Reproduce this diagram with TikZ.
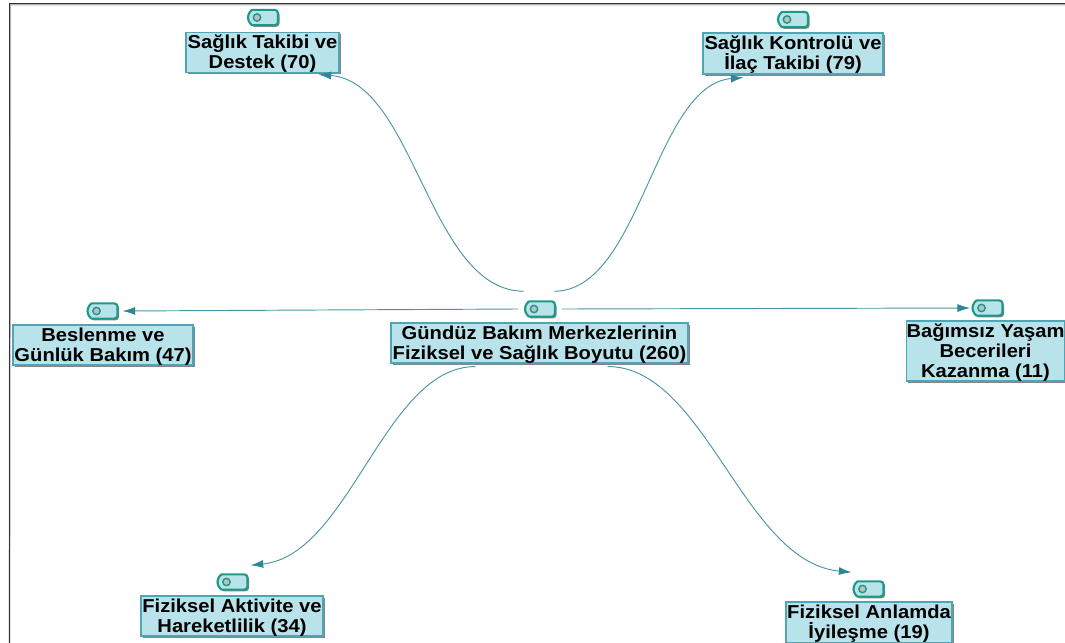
\documentclass[tikz,border=0pt]{standalone}
\usepackage{fontspec}
\setmainfont[FakeStretch=1.08]{Liberation Sans}
\usetikzlibrary{arrows.meta,shapes.misc,shadows}
\definecolor{boxfill}{HTML}{B9E3EA}
\definecolor{boxline}{HTML}{4FA5B5}
\definecolor{tagline}{HTML}{1E9985}
\definecolor{linkcol}{HTML}{4A95A3}
\definecolor{tipcol}{HTML}{2F8796}
\newcommand{\topstrut}{\rule{0pt}{12pt}}
\tikzset{
    databox/.style={draw=boxline,line width=0.8pt,fill=boxfill,align=center,inner sep=0pt,
        font=\bfseries\fontsize{14}{15}\selectfont,text=black,
        drop shadow={shadow xshift=1.3pt,shadow yshift=-1.3pt,fill=black!60,opacity=0.8}},
    tagbox/.style={rounded rectangle,rounded rectangle right arc=none,rounded corners=2.5pt,
        draw=tagline,line width=1.6pt,fill=boxfill,minimum width=22.5pt,minimum height=11.5pt,inner sep=0pt,
        drop shadow={shadow xshift=1.2pt,shadow yshift=-1.2pt,fill=black!60,opacity=0.8}},
    taghole/.style={circle,draw=tagline,line width=1.1pt,fill=black!25,minimum size=5.5pt,inner sep=0pt},
    link/.style={draw=linkcol,line width=0.7pt,-{Latex[length=9.5pt,width=6pt,color=tipcol]}},
    frameline/.style={draw=black!80,line width=1.3pt}
}
\begin{document}
\begin{tikzpicture}[x=0.75pt,y=-0.75pt]
        \useasboundingbox (0,0) rectangle (1065,643);
        \coordinate (frameBL) at (9.5,643);
        \coordinate (frameTL) at (9.5,3.5);
        \coordinate (frameTR) at (1065,3.5);
        \draw[frameline,draw=black!30] (frameBL) -- ([shift={(0.8,1)}]frameTL) -- ([yshift=-0.8pt]frameTR);
        \draw[frameline] (frameBL) -- (frameTL) -- (frameTR);

        % centre
        \node[tagbox] (tagHub) at (540,309) {};
        \node[taghole] (holeHub) at ([xshift=-4.5pt]tagHub.center) {};
        \node[databox,minimum width=222.75pt,minimum height=30pt] (boxHub) at (539.5,343) {\topstrut Gündüz Bakım Merkezlerinin\\Fiziksel ve Sağlık Boyutu (260)};

        % top
        \node[tagbox] (tagTakip) at (263,17.5) {};
        \node[taghole] (holeTakip) at ([xshift=-4.5pt]tagTakip.center) {};
        \node[databox,minimum width=114.75pt,minimum height=30pt] (boxTakip) at (262.5,52.5) {\topstrut Sağlık Takibi ve\\Destek (70)};

        \node[tagbox] (tagKontrol) at (793,19.5) {};
        \node[taghole] (holeKontrol) at ([xshift=-4.5pt]tagKontrol.center) {};
        \node[databox,minimum width=135pt,minimum height=30.75pt] (boxKontrol) at (793,53.5) {\topstrut Sağlık Kontrolü ve\\İlaç Takibi (79)};

        % middle
        \node[tagbox] (tagBeslenme) at (102.5,311) {};
        \node[taghole] (holeBeslenme) at ([xshift=-4.5pt]tagBeslenme.center) {};
        \node[databox,minimum width=135pt,minimum height=30pt] (boxBeslenme) at (103,345) {\topstrut Beslenme ve\\Günlük Bakım (47)};

        \node[tagbox] (tagYasam) at (987.5,308) {};
        \node[taghole] (holeYasam) at ([xshift=-4.5pt]tagYasam.center) {};
        \node[databox,minimum width=117.75pt,minimum height=45pt] (boxYasam) at (985.5,351) {\topstrut Bağımsız Yaşam\\Becerileri\\Kazanma (11)};

        % bottom
        \node[tagbox] (tagAktivite) at (232.5,582) {};
        \node[taghole] (holeAktivite) at ([xshift=-4.5pt]tagAktivite.center) {};
        \node[databox,minimum width=136.5pt,minimum height=30pt] (boxAktivite) at (232,616) {\topstrut Fiziksel Aktivite ve\\Hareketlilik (34)};

        \node[tagbox] (tagAnlam) at (868.5,589) {};
        \node[taghole] (holeAnlam) at ([xshift=-4.5pt]tagAnlam.center) {};
        \node[databox,minimum width=124.5pt,minimum height=30.75pt] (boxAnlam) at (869,622.5) {\topstrut Fiziksel Anlamda\\İyileşme (19)};

        % links
        \draw[link] ([shift={(-16,-9)}]tagHub.north) .. controls +(-95,0) and (415,82) .. ([shift={(-21,1.5)}]boxTakip.south east);
        \draw[link] ([shift={(14,-9)}]tagHub.north) .. controls +(87,0) and (654,85) .. ([shift={(-140,3)}]boxKontrol.south east);
        \draw[link] ([xshift=-4.5pt]tagHub.west) -- ([xshift=3pt]tagBeslenme.east);
        \draw[link] ([xshift=4.5pt]tagHub.east) -- ([xshift=-1pt]tagYasam.west);
        \draw[link] ([shift={(85,3)}]boxHub.south west) .. controls +(-91,0) and (350,555) .. ([shift={(2,-8)}]tagAktivite.north east);
        \draw[link] ([shift={(-81,3)}]boxHub.south east) .. controls +(98,0) and (743,562) .. ([shift={(-17,-8)}]tagAnlam.north);
\end{tikzpicture}
\end{document}
